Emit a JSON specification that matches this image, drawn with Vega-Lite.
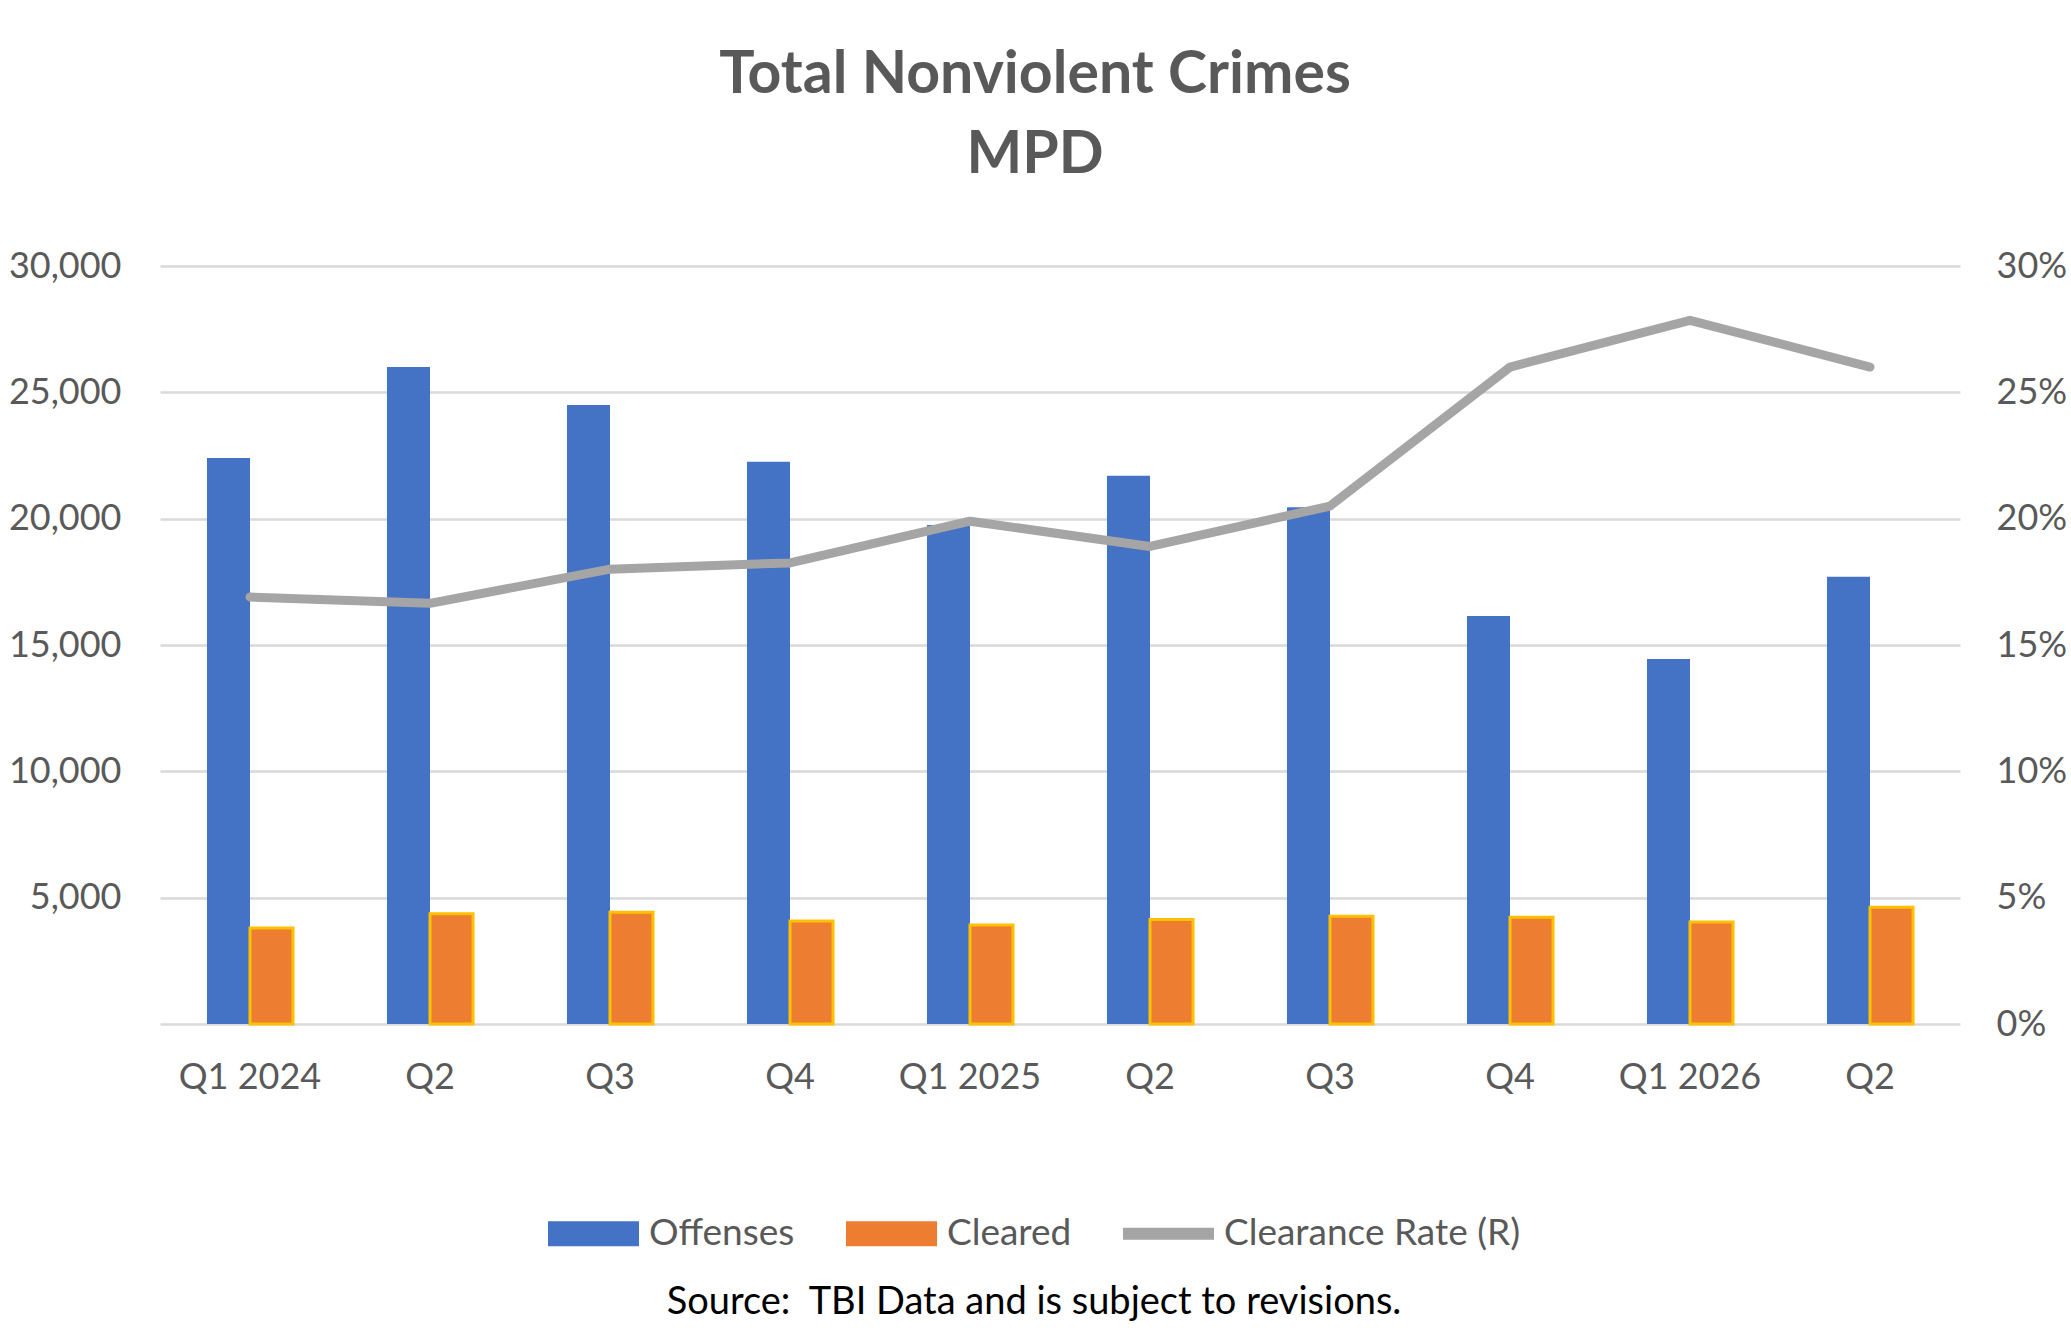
{
  "$schema": "https://vega.github.io/schema/vega-lite/v6.json",
  "description": "Total nonviolent crimes, MPD, by quarter",
  "autosize": {"type": "none"},
  "width": 1800,
  "height": 758,
  "padding": {"left": 160, "top": 266, "right": 111, "bottom": 307},
  "background": "white",
  "config": {
    "font": "Lato",
    "view": {"stroke": null}
  },
  "title": {
    "text": ["Total Nonviolent Crimes", "MPD"],
    "font": "Lato",
    "fontSize": 59,
    "fontWeight": "bold",
    "color": "#595959",
    "lineHeight": 80,
    "anchor": "middle",
    "frame": "group",
    "dx": -25,
    "offset": 63
  },
  "data": {
    "values": [
      {"quarter": "Q1 2024", "series": "Offenses", "value": 22400},
      {"quarter": "Q2 2024", "series": "Offenses", "value": 26000},
      {"quarter": "Q3 2024", "series": "Offenses", "value": 24500},
      {"quarter": "Q4 2024", "series": "Offenses", "value": 22250},
      {"quarter": "Q1 2025", "series": "Offenses", "value": 19750},
      {"quarter": "Q2 2025", "series": "Offenses", "value": 21700},
      {"quarter": "Q3 2025", "series": "Offenses", "value": 20450},
      {"quarter": "Q4 2025", "series": "Offenses", "value": 16150},
      {"quarter": "Q1 2026", "series": "Offenses", "value": 14450},
      {"quarter": "Q2 2026", "series": "Offenses", "value": 17700},
      {"quarter": "Q1 2024", "series": "Cleared", "value": 3800},
      {"quarter": "Q2 2024", "series": "Cleared", "value": 4360},
      {"quarter": "Q3 2024", "series": "Cleared", "value": 4420},
      {"quarter": "Q4 2024", "series": "Cleared", "value": 4080},
      {"quarter": "Q1 2025", "series": "Cleared", "value": 3920},
      {"quarter": "Q2 2025", "series": "Cleared", "value": 4140},
      {"quarter": "Q3 2025", "series": "Cleared", "value": 4260},
      {"quarter": "Q4 2025", "series": "Cleared", "value": 4220},
      {"quarter": "Q1 2026", "series": "Cleared", "value": 4040},
      {"quarter": "Q2 2026", "series": "Cleared", "value": 4620},
      {"quarter": "Q1 2024", "series": "Clearance Rate (R)", "value": 0.169},
      {"quarter": "Q2 2024", "series": "Clearance Rate (R)", "value": 0.1665},
      {"quarter": "Q3 2024", "series": "Clearance Rate (R)", "value": 0.18},
      {"quarter": "Q4 2024", "series": "Clearance Rate (R)", "value": 0.1825},
      {"quarter": "Q1 2025", "series": "Clearance Rate (R)", "value": 0.199},
      {"quarter": "Q2 2025", "series": "Clearance Rate (R)", "value": 0.189},
      {"quarter": "Q3 2025", "series": "Clearance Rate (R)", "value": 0.205},
      {"quarter": "Q4 2025", "series": "Clearance Rate (R)", "value": 0.26},
      {"quarter": "Q1 2026", "series": "Clearance Rate (R)", "value": 0.2785},
      {"quarter": "Q2 2026", "series": "Clearance Rate (R)", "value": 0.26}
    ]
  },
  "encoding": {
    "x": {
      "field": "quarter",
      "type": "nominal",
      "sort": null,
      "title": null,
      "scale": {"paddingInner": 0.522, "paddingOuter": 0.261},
      "axis": {
        "labelAngle": 0,
        "labelExpr": "slice(datum.value, 0, 2) == 'Q1' ? datum.value : slice(datum.value, 0, 2)",
        "labelFont": "Lato",
        "labelFontSize": 36,
        "labelColor": "#595959",
        "labelPadding": 36,
        "ticks": false,
        "domainColor": "#D9D9D9",
        "domainWidth": 2.5,
        "zindex": 0
      }
    },
    "color": {
      "field": "series",
      "type": "nominal",
      "scale": {
        "domain": ["Offenses", "Cleared", "Clearance Rate (R)"],
        "range": ["#4472C4", "#ED7D31", "#A5A5A5"]
      },
      "legend": {
        "title": "Source: \u00a0TBI Data and is subject to revisions.",
        "titleOrient": "bottom",
        "titleAnchor": "middle",
        "titleFont": "Lato",
        "titleFontSize": 38,
        "titleFontWeight": "normal",
        "titleColor": "#000000",
        "titlePadding": 32,
        "titleLimit": 1500,
        "orient": "none",
        "legendX": 388,
        "legendY": 922,
        "direction": "horizontal",
        "labelFont": "Lato",
        "labelFontSize": 37,
        "labelColor": "#595959",
        "labelLimit": 600,
        "labelOffset": 10,
        "columnPadding": 46,
        "symbolSize": 7744,
        "encode": {
          "symbols": {
            "update": {
              "size": {"value": 7744},
              "shape": {"signal": "datum.value === 'Clearance Rate (R)' ? 'M-1,-0.1H1V0.1H-1Z' : 'M-1,-0.25H1V0.25H-1Z'"},
              "fill": {"signal": "datum.value === 'Offenses' ? '#4472C4' : datum.value === 'Cleared' ? '#ED7D31' : '#A5A5A5'"},
              "stroke": {"signal": "datum.value === 'Cleared' ? '#FFC000' : 'transparent'"},
              "strokeWidth": {"value": 3},
              "opacity": {"value": 1},
              "fillOpacity": {"value": 1},
              "strokeOpacity": {"value": 1}
            }
          }
        }
      }
    }
  },
  "layer": [
    {
      "transform": [{"filter": "datum.series !== 'Clearance Rate (R)'"}],
      "mark": {"type": "bar"},
      "encoding": {
        "xOffset": {
          "field": "series",
          "type": "nominal",
          "scale": {"domain": ["Offenses", "Cleared"], "paddingInner": 0, "paddingOuter": 0}
        },
        "y": {
          "field": "value",
          "type": "quantitative",
          "title": null,
          "scale": {"domain": [0, 30000], "nice": false},
          "axis": {
            "orient": "left",
            "values": [5000, 10000, 15000, 20000, 25000, 30000],
            "format": ",d",
            "labelFont": "Lato",
            "labelFontSize": 36,
            "labelColor": "#595959",
            "labelPadding": 39,
            "ticks": false,
            "domain": false,
            "grid": true,
            "gridColor": "#D9D9D9",
            "gridWidth": 2.5,
            "zindex": 0
          }
        },
        "stroke": {
          "condition": {"test": "datum.series === 'Cleared'", "value": "#FFC000"},
          "value": null
        },
        "strokeWidth": {"value": 3}
      }
    },
    {
      "transform": [{"filter": "datum.series === 'Clearance Rate (R)'"}],
      "mark": {"type": "line", "strokeWidth": 9, "strokeCap": "round", "strokeJoin": "round"},
      "encoding": {
        "y": {
          "field": "value",
          "type": "quantitative",
          "title": null,
          "scale": {"domain": [0, 0.3], "nice": false},
          "axis": {
            "orient": "right",
            "values": [0, 0.05, 0.1, 0.15, 0.2, 0.25, 0.3],
            "format": ".0%",
            "labelFont": "Lato",
            "labelFontSize": 36,
            "labelColor": "#595959",
            "labelPadding": 36,
            "ticks": false,
            "domain": false,
            "grid": false
          }
        }
      }
    }
  ],
  "resolve": {"scale": {"y": "independent"}}
}
